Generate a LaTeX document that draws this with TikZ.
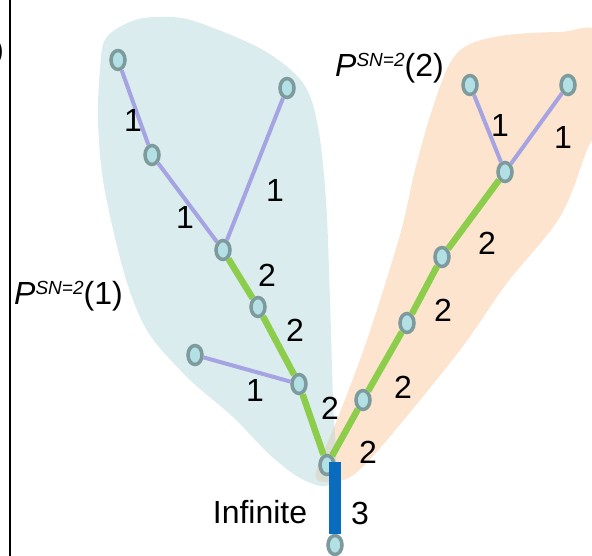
\documentclass[tikz,border=0pt]{standalone}
\usepackage{fontspec}
\setmainfont{Liberation Sans}
\usetikzlibrary{shapes.geometric}
\definecolor{blobblue}{RGB}{218,236,238}
\definecolor{bloborange}{RGB}{253,228,206}
\definecolor{blobmix}{RGB}{218,221,209}
\definecolor{vborder}{RGB}{125,154,156}
\definecolor{vfill}{RGB}{178,224,228}
\definecolor{lav}{RGB}{166,163,226}
\definecolor{grn}{RGB}{140,206,76}
\definecolor{barblue}{RGB}{10,108,190}
\tikzset{
  vert/.style={ellipse, draw=vborder, fill=vfill, line width=3.5pt, minimum width=14pt, minimum height=19pt, inner sep=0pt},
  light/.style={draw=lav, line width=4pt},
  heavy/.style={draw=grn, line width=6.5pt},
  infbar/.style={draw=barblue, line width=12pt, line cap=butt},
  num/.style={inner sep=0pt, font=\fontsize{32}{32}\selectfont},
  plabel/.style={inner sep=0pt, anchor=base west, font=\fontsize{32}{32}\selectfont}
}
\newcommand{\psn}[1]{\textit{P}\raisebox{0.33em}{\fontsize{19}{19}\selectfont\textit{SN=2}}(#1)}
\def\bluepath{plot[smooth cycle, tension=0.55] coordinates {(100,70) (106,38) (135,20) (170,17) (200,23) (263,50) (303,83) (318,127) (326,200) (330,300) (333,400) (336,468) (326,486) (300,478) (270,455) (233,417) (190,380) (152,338) (133,300) (118,250) (103,180) (98,120)}}
\def\orangepath{plot[smooth cycle, tension=0.55] coordinates {(450,63) (470,44) (507,35) (560,32) (600,34) (600,120) (587,150) (560,217) (507,283) (460,350) (387,440) (352,476) (325,482) (316,472) (337,420) (367,340) (400,235) (415,170) (432,110)}}
\begin{document}
\begin{tikzpicture}[x=1pt, y=-1pt]
\useasboundingbox (0,0) rectangle (592,556);
% blobs
\fill[blobblue] \bluepath;
\fill[bloborange] \orangepath;
\begin{scope}
  \clip \bluepath;
  \fill[blobmix] \orangepath;
\end{scope}
% frame line and cut parenthesis
\draw[line width=2.5pt] (10,0) -- (10,556);
\node[inner sep=0pt, anchor=east, font=\fontsize{28}{28}\selectfont] (par) at (4,52) {)};
% vertices
\node[vert] (a1) at (118,60) {};
\node[vert] (a2) at (152,155) {};
\node[vert] (a3) at (287,88) {};
\node[vert] (a4) at (223,250) {};
\node[vert] (a5) at (258,307) {};
\node[vert] (a6) at (195,355) {};
\node[vert] (a7) at (299,384) {};
\node[vert] (root) at (327,465) {};
\node[vert] (bot) at (335,545) {};
\node[vert] (b1) at (470,85) {};
\node[vert] (b2) at (568,85) {};
\node[vert] (b3) at (505,172) {};
\node[vert] (b4) at (442,257) {};
\node[vert] (b5) at (407,323) {};
\node[vert] (b6) at (363,400) {};
% edges
\draw[light] (a1) -- (a2);
\draw[light] (a2) -- (a4);
\draw[light] (a3) -- (a4);
\draw[heavy] (a4) -- (a5);
\draw[heavy] (a5) -- (a7);
\draw[light] (a6) -- (a7);
\draw[heavy] (a7) -- (root);
\draw[light] (b1) -- (b3);
\draw[light] (b2) -- (b3);
\draw[heavy] (b3) -- (b4);
\draw[heavy] (b4) -- (b5);
\draw[heavy] (b5) -- (b6);
\draw[heavy] (b6) -- (root);
\coordinate (bartop) at ([yshift=3pt]bot |- root.center);
\draw[infbar] (bot.north) -- (bartop);
% edge labels
\node[num] (l1) at (133,120) {1};
\node[num] (l2) at (185,217) {1};
\node[num] (l3) at (275,190) {1};
\node[num] (l4) at (267,275) {2};
\node[num] (l5) at (295,330) {2};
\node[num] (l6) at (255,390) {1};
\node[num] (l7) at (330,408) {2};
\node[num] (l8) at (368,452) {2};
\node[num] (l9) at (403,387) {2};
\node[num] (l10) at (443,310) {2};
\node[num] (l11) at (487,243) {2};
\node[num] (l12) at (500,125) {1};
\node[num] (l13) at (563,137) {1};
\node[num] (l14) at (360,513) {3};
\node[num] (inf) at (260,512) {Infinite};
% set labels
\node[plabel] (p1) at (14,305) {\psn{1}};
\node[plabel] (p2) at (335,77) {\psn{2}};
\end{tikzpicture}
\end{document}
